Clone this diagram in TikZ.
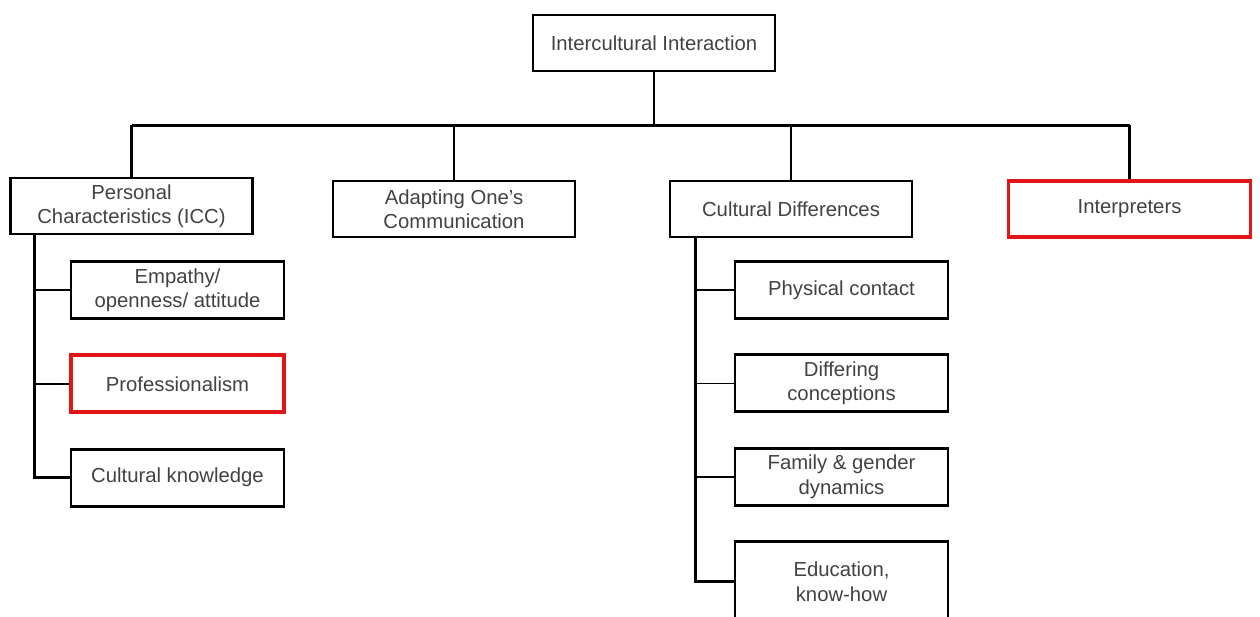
\documentclass[tikz,border=0pt]{standalone}
\usepackage{fontspec}
\setmainfont{Liberation Sans}
\usepackage{xcolor}
\usetikzlibrary{
    positioning,
    calc
}
\definecolor{boxred}{RGB}{226,22,22}
\definecolor{textgray}{RGB}{66,66,66}
\tikzset{
    box/.style={
        rectangle,
        draw=black,
        line width=2.9pt,
        fill=white,
        align=center,
        text=textgray,
        minimum width=242pt,
        minimum height=56pt,
        inner sep=2pt,
        font=\fontsize{20.3}{24.5}\selectfont
    },
    subbox/.style={
        box,
        minimum width=213pt,
        minimum height=57pt
    },
    redbox/.style={
        draw=boxred,
        line width=3.8pt
    },
    link/.style={
        line width=2.9pt
    },
    stub/.style={
        line width=1.6pt
    }
}

\begin{document}
\begin{tikzpicture}[x=1pt, y=-1pt, node distance=33.5pt]
\useasboundingbox (0,0) rectangle (1260,616);
\clip (0,0) rectangle (1260,616);

\node[box] (root) at (654,43) {Intercultural Interaction};

\node[box] (pers) at (131.5,206) {Personal\\Characteristics (ICC)};
\node[box] (adapt) at (454,209) {Adapting One’s\\Communication};
\node[box] (diff) at (791,209) {Cultural Differences};
\node[box, redbox] (interp) at (1129.5,209) {Interpreters};

% left branch
\node[subbox] (empathy) at (177.5,290) {Empathy/\\openness/ attitude};
\node[subbox, redbox, below=of empathy] (prof) {Professionalism};
\node[subbox, below=of prof] (cknow) {Cultural knowledge};

% right branch
\node[subbox] (contact) at (841.5,290) {Physical contact};
\node[subbox, below=of contact] (concept) {Differing\\conceptions};
\node[subbox, below=of concept] (family) {Family \& gender\\dynamics};
\node[subbox, minimum height=80pt, below=of family] (educ) {Education,\\know-how};

% bus
\coordinate (bus) at ($(root.south)+(0,53)$);
\draw[link] (root.south) -- (root.south |- bus);
\draw[link] (pers.north |- bus) -- (interp.north |- bus);
\draw[link] (pers.north) -- (pers.north |- bus);
\draw[link] (adapt.north) -- (adapt.north |- bus);
\draw[link] (diff.north) -- (diff.north |- bus);
\draw[link] (interp.north) -- (interp.north |- bus);

% trunks
\coordinate (ptrunk) at ([xshift=25pt]pers.south west);
\draw[link] (ptrunk) |- (cknow.west);
\draw[stub] (empathy.west) -- (empathy.west -| ptrunk);
\draw[stub] (prof.west) -- (prof.west -| ptrunk);

\coordinate (dtrunk) at ([xshift=27pt]diff.south west);
\draw[link] (dtrunk) |- (educ.west);
\draw[stub] (contact.west) -- (contact.west -| dtrunk);
\draw[stub] (concept.west) -- (concept.west -| dtrunk);
\draw[stub] (family.west) -- (family.west -| dtrunk);
\end{tikzpicture}
\end{document}
